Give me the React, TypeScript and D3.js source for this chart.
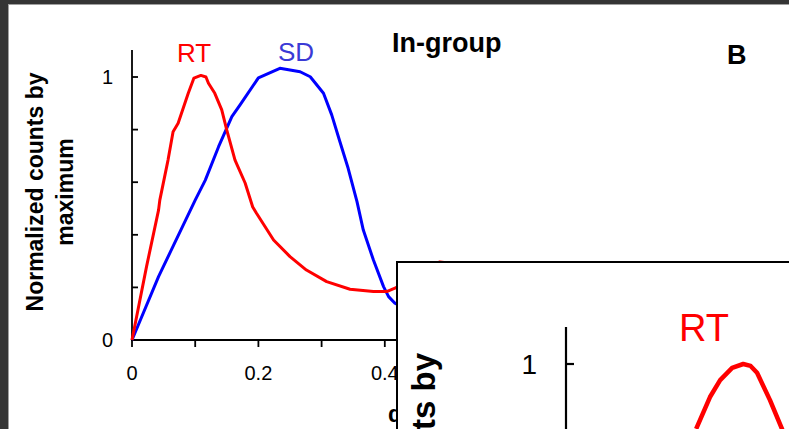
import React from "react";
import * as d3 from "d3";

// ---- Main panel data (In-group) ----
const rtX = [0, 0.023, 0.042, 0.044, 0.057, 0.065, 0.073, 0.089, 0.098, 0.109, 0.117, 0.121, 0.131, 0.142, 0.15, 0.163, 0.179, 0.191, 0.197, 0.224, 0.25, 0.276, 0.308, 0.345, 0.382, 0.403, 0.416, 0.44, 0.464, 0.487, 0.511, 0.535];
const rtY = [0, 0.279, 0.494, 0.532, 0.684, 0.792, 0.824, 0.938, 0.996, 1.006, 1.0, 0.976, 0.938, 0.875, 0.798, 0.684, 0.597, 0.506, 0.482, 0.38, 0.317, 0.266, 0.222, 0.193, 0.184, 0.184, 0.197, 0.232, 0.27, 0.297, 0.29, 0.26];

const sdX = [0, 0.042, 0.1, 0.116, 0.137, 0.158, 0.171, 0.2, 0.234, 0.266, 0.282, 0.303, 0.316, 0.329, 0.342, 0.356, 0.366, 0.382, 0.398, 0.406, 0.416, 0.432, 0.456, 0.49];
const sdY = [0, 0.241, 0.532, 0.608, 0.735, 0.849, 0.894, 0.997, 1.033, 1.02, 1.001, 0.938, 0.856, 0.754, 0.653, 0.526, 0.418, 0.304, 0.203, 0.165, 0.14, 0.12, 0.105, 0.1];

const xTickValues = [0, 0.1, 0.2, 0.3, 0.4, 0.5, 0.6];
const xTickLabels = ["0", "", "0.2", "", "0.4", "", "0.6"];
const yTickValues = [0, 0.2, 0.4, 0.6, 0.8, 1];
const yTickLabels = ["0", "", "", "", "", "1"];

// ---- Inset panel data ----
const insetRtX = [0.141, 0.156, 0.167, 0.18, 0.192, 0.2, 0.207, 0.221, 0.234, 0.243];
const insetRtY = [0.831, 0.914, 0.958, 0.99, 1.0, 0.995, 0.977, 0.906, 0.831, 0.776];
const insetYTicks = [0.8, 1];
const insetYLabels = ["", "1"];

const FONT = "'Liberation Sans', Arial, Helvetica, sans-serif";

export default function App() {
  const x = d3.scaleLinear().domain([0, 1]).range([132, 764]);
  const y = d3.scaleLinear().domain([0, 1]).range([340, 77]);

  const line = d3
    .line<[number, number]>()
    .x((d) => x(d[0]))
    .y((d) => y(d[1]))
    .curve(d3.curveLinear);

  const rtPts = rtX.map((v, i) => [v, rtY[i]] as [number, number]);
  const sdPts = sdX.map((v, i) => [v, sdY[i]] as [number, number]);

  const ix = d3.scaleLinear().domain([0, 1]).range([566, 1489]);
  const iy = d3.scaleLinear().domain([0, 1]).range([748, 364]);
  const iline = d3
    .line<[number, number]>()
    .x((d) => ix(d[0]))
    .y((d) => iy(d[1]))
    .curve(d3.curveLinear);
  const insetPts = insetRtX.map((v, i) => [v, insetRtY[i]] as [number, number]);

  return (
    <svg
      width={789}
      height={429}
      style={{ position: "absolute", left: 0, top: 0, display: "block" }}
      fontFamily={FONT}
    >
      {/* window frame */}
      <rect x={0} y={0} width={789} height={429} fill="#353535" />
      <rect x={8} y={4} width={781} height={425} fill="#a0a0a0" />
      <rect x={9} y={5} width={780} height={424} fill="#ffffff" />

      {/* main axes */}
      <line x1={x(0)} x2={x(0)} y1={50} y2={y(0)} stroke="#000" strokeWidth={1.8} />
      <line x1={x(0) - 1} x2={x(0.62)} y1={y(0)} y2={y(0)} stroke="#000" strokeWidth={1.8} />
      {yTickValues.map((v, i) => (
        <g key={"yt" + i}>
          <line x1={x(0)} x2={x(0) + 6} y1={y(v)} y2={y(v)} stroke="#000" strokeWidth={1.8} />
          {yTickLabels[i] && (
            <text x={113} y={y(v) + 7} textAnchor="end" fontSize={20} fill="#000">
              {yTickLabels[i]}
            </text>
          )}
        </g>
      ))}
      {xTickValues.map((v, i) => (
        <g key={"xt" + i}>
          <line x1={x(v)} x2={x(v)} y1={y(0)} y2={y(0) + 7} stroke="#000" strokeWidth={1.8} />
          {xTickLabels[i] && (
            <text x={x(v)} y={380} textAnchor="middle" fontSize={20} fill="#000">
              {xTickLabels[i]}
            </text>
          )}
        </g>
      ))}

      {/* y axis title */}
      <text transform="translate(43,192) rotate(-90)" textAnchor="middle" fontSize={23} fontWeight="bold" fill="#000">
        Normalized counts by
      </text>
      <text transform="translate(73,192) rotate(-90)" textAnchor="middle" fontSize={23} fontWeight="bold" fill="#000">
        maximum
      </text>
      <text x={388} y={422} fontSize={23} fontWeight="bold" fill="#000">d</text>

      {/* curves */}
      <path d={line(sdPts) || ""} fill="none" stroke="#0000ff" strokeWidth={3} strokeLinejoin="round" />
      <path d={line(rtPts) || ""} fill="none" stroke="#ff0000" strokeWidth={3} strokeLinejoin="round" />

      {/* labels */}
      <text x={177} y={62} fontSize={26} fill="#ff0000">RT</text>
      <text x={278} y={61} fontSize={26} fill="#3a3ad6">SD</text>
      <text x={392} y={52} fontSize={27} fontWeight="bold" fill="#000">In-group</text>
      <text x={727} y={64} fontSize={27} fontWeight="bold" fill="#000">B</text>

      {/* inset panel */}
      <g>
        <rect x={397} y={262} width={420} height={200} fill="#ffffff" stroke="#000" strokeWidth={2} />
        <text transform="translate(435,353) rotate(-90)" textAnchor="end" fontSize={33} fontWeight="bold" fill="#000">
          Normalized counts by
        </text>
        <line x1={ix(0)} x2={ix(0)} y1={327} y2={iy(0)} stroke="#000" strokeWidth={2.2} />
        {insetYTicks.map((v, i) => (
          <g key={"iyt" + i}>
            <line x1={ix(0)} x2={ix(0) + 8} y1={iy(v)} y2={iy(v)} stroke="#000" strokeWidth={2.2} />
            {insetYLabels[i] && (
              <text x={537} y={iy(v) + 10} textAnchor="end" fontSize={28} fill="#000">
                {insetYLabels[i]}
              </text>
            )}
          </g>
        ))}
        <path d={iline(insetPts) || ""} fill="none" stroke="#ff0000" strokeWidth={4.5} strokeLinejoin="round" />
        <text x={679} y={341} fontSize={38} fill="#ff0000">RT</text>
      </g>
    </svg>
  );
}
